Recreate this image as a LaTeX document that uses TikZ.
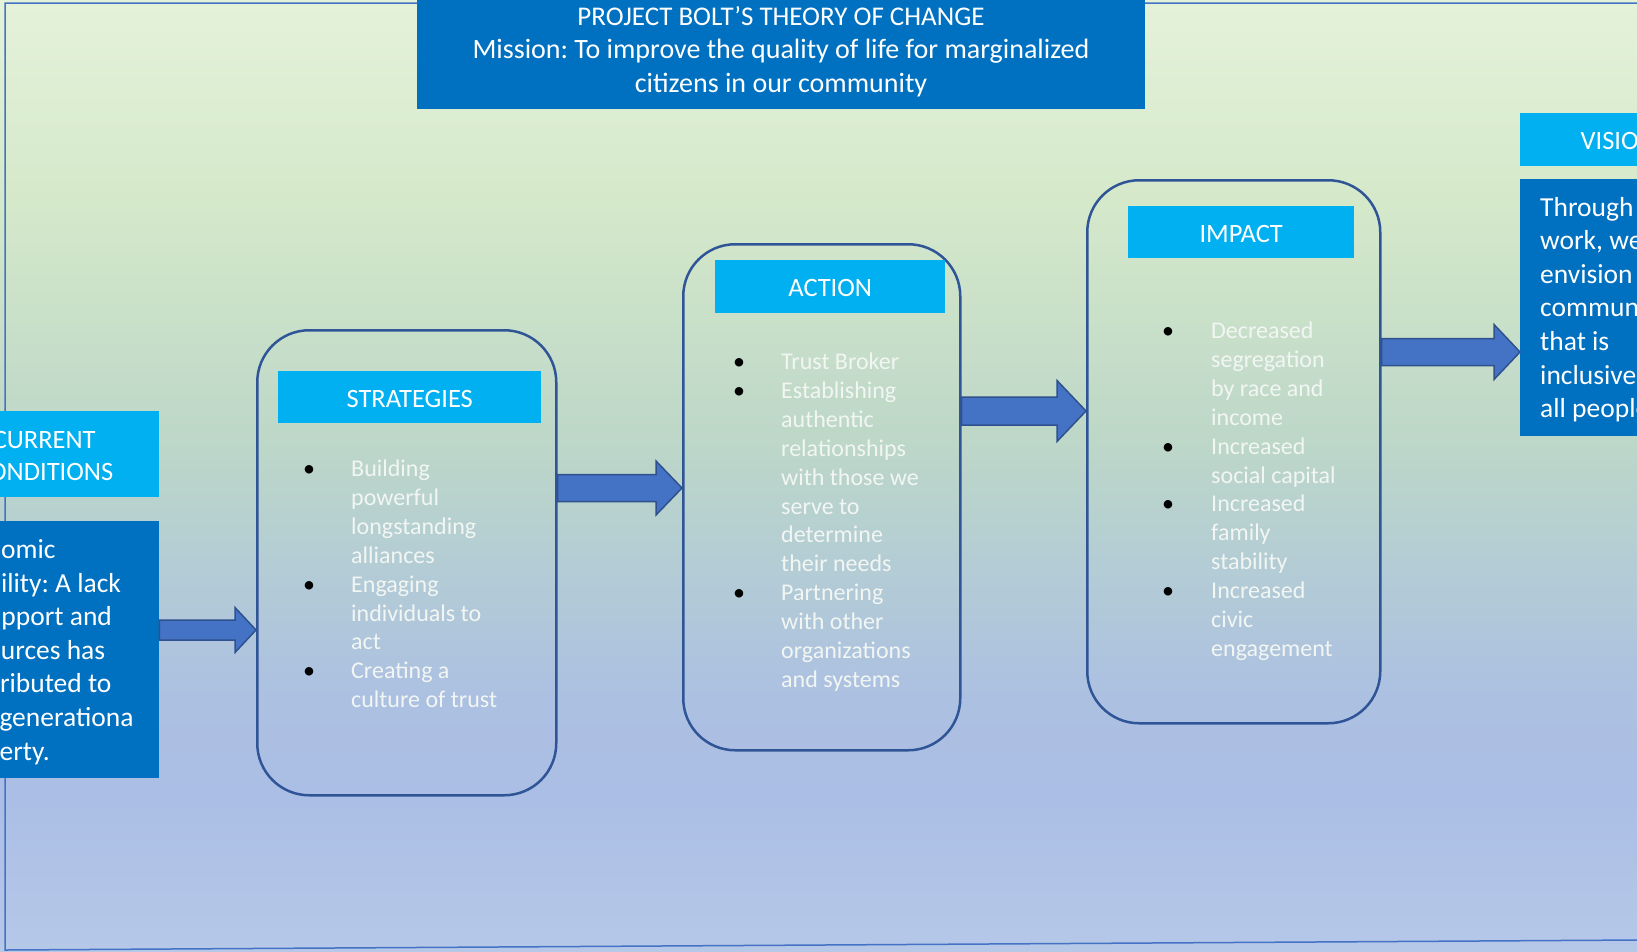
\documentclass[tikz,border=0pt]{standalone}
\usepackage{fontspec}
\setmainfont{Carlito}
\usepackage{array}
\usetikzlibrary{calc}
\frenchspacing
\definecolor{bgtop}{RGB}{228,242,218}
\definecolor{bgA}{RGB}{213,233,202}
\definecolor{bgB}{RGB}{189,215,200}
\definecolor{bgC}{RGB}{180,205,212}
\definecolor{bgD}{RGB}{172,192,226}
\definecolor{bgE}{RGB}{171,190,229}
\definecolor{bgbot}{RGB}{182,200,232}
\definecolor{framecol}{RGB}{68,114,196}
\definecolor{darkblue}{RGB}{0,112,192}
\definecolor{cyanhead}{RGB}{0,176,240}
\definecolor{boxline}{RGB}{47,85,151}
\definecolor{arrowfill}{RGB}{68,114,196}
\definecolor{arrowline}{RGB}{47,82,143}
\definecolor{itemtext}{RGB}{242,246,243}
\pgfdeclareverticalshading{bgshade}{100bp}{color(0bp)=(bgbot); color(25bp)=(bgbot); color(32.9bp)=(bgE); color(38.2bp)=(bgD); color(45.6bp)=(bgC); color(51.9bp)=(bgB); color(64.6bp)=(bgA); color(75bp)=(bgtop); color(100bp)=(bgtop)}
\newcommand\fList{\fontsize{24}{28.9}\selectfont}
\newcommand\fHead{\fontsize{26.5}{32.3}\selectfont}
\newcommand\fBody{\fontsize{27.5}{33.6}\selectfont}
\newcommand\fTitle{\fontsize{28}{33.5}\selectfont}
\newcommand\fTitleA{\fontsize{27}{33.5}\selectfont}
\newcommand\shiftln[1]{\hspace*{#1pt}}
\newcommand\blockarrow[5]{%
  \draw[blockarr] let \p1=(#1), \p2=(#2) in
    (\x1,{\y1+#3pt}) -- ({\x2-#5pt},{\y1+#3pt}) -- ({\x2-#5pt},{\y1+#4pt}) --
    (\x2,\y1) -- ({\x2-#5pt},{\y1-#4pt}) -- ({\x2-#5pt},{\y1-#3pt}) --
    (\x1,{\y1-#3pt}) -- cycle;}
\begin{document}
\begin{tikzpicture}[x=1pt,y=-1pt,
  stage/.style={draw=boxline, line width=2.5pt, rounded corners=52pt, inner sep=0pt, anchor=north west},
  headbox/.style={fill=cyanhead, inner sep=0pt, anchor=north west},
  headtext/.style={text=white, font=\fHead, inner sep=0pt, align=center},
  bodybox/.style={fill=darkblue, inner sep=0pt, anchor=north west},
  bodytext/.style={text=white, font=\fBody, inner sep=0pt, anchor=base west},
  bullets/.style={font=\fList, inner sep=0pt, anchor=base west},
  blockarr/.style={fill=arrowfill, draw=arrowline, line width=1.5pt, line join=miter}]
\useasboundingbox (0,0) rectangle (1637,951);
\clip (0,0) rectangle (1637,951);
% background
\shade[shading=bgshade] (0,0) rectangle (1637,951);
\draw[framecol, line width=1.5pt] (1640,3) -- (5,3) -- (5,950) -- (1640,940);

% title
\node[bodybox, minimum width=728pt, minimum height=109pt] (title) at (417,0) {};
\node[text=white, font=\fTitle, inner sep=0pt, anchor=base] (titletext) at (781,25)
  {\begin{tabular}[t]{@{}c@{}}{\fTitleA PROJECT BOLT’S THEORY OF CHANGE}\\
   Mission: To improve the quality of life for marginalized\\
   citizens in our community\end{tabular}};

% current conditions
\node[headbox, minimum width=230pt, minimum height=86pt] (curh) at (-71,411) {};
\node[headtext] (curhtext) at ([yshift=-2pt]curh.center) {CURRENT\\CONDITIONS};
\node[bodybox, minimum width=230pt, minimum height=257pt] (curbody) at (-71,521) {};
\node[bodytext] (curtext) at (-48,558.5)
  {\begin{tabular}[t]{@{}l@{}}\shiftln{-4.5}Economic\\ \shiftln{-2}mobility: A lack\\
   \shiftln{-5}of support and\\ \shiftln{0.5}resources has\\
   \shiftln{-1.5}contributed to\\ \shiftln{-5}intergenerationa\\ \shiftln{-6}l poverty.\end{tabular}};

% strategies
\node[stage, minimum width=299pt, minimum height=465pt] (strat) at (256,329) {};
\node[headbox, minimum width=263pt, minimum height=52pt] (strath) at (278,371) {};
\node[headtext] (strathtext) at ([yshift=-2pt]strath.center) {STRATEGIES};
\node[bullets] (stratlist) at (303,476.5)
  {\begin{tabular}[t]{@{}p{48pt}@{}>{\color{itemtext}}l@{}}
   \textbullet & Building\\ & powerful\\ & longstanding\\ & alliances\\
   \textbullet & Engaging\\ & individuals to\\ & act\\
   \textbullet & Creating a\\ & culture of trust\end{tabular}};

% action
\node[stage, minimum width=277pt, minimum height=506pt] (action) at (682,243) {};
\node[headbox, minimum width=230pt, minimum height=53pt] (actionh) at (715,260) {};
\node[headtext] (actionhtext) at ([yshift=-1.5pt]actionh.center) {ACTION};
\node[bullets] (actionlist) at (733,369.5)
  {\begin{tabular}[t]{@{}p{48pt}@{}>{\color{itemtext}}l@{}}
   \textbullet & Trust Broker\\
   \textbullet & Establishing\\ & authentic\\ & relationships\\ & with those we\\ & serve to\\ & determine\\ & their needs\\
   \textbullet & Partnering\\ & with other\\ & organizations\\ & and systems\end{tabular}};

% impact
\node[stage, minimum width=293pt, minimum height=543pt] (impact) at (1086,179) {};
\node[headbox, minimum width=226pt, minimum height=52pt] (impacth) at (1128,206) {};
\node[headtext] (impacthtext) at ([yshift=-1.5pt]impacth.center) {IMPACT};
\node[bullets] (impactlist) at (1162,338.5)
  {\begin{tabular}[t]{@{}p{49pt}@{}>{\color{itemtext}}l@{}}
   \textbullet & Decreased\\ & segregation\\ & by race and\\ & income\\
   \textbullet & Increased\\ & social capital\\
   \textbullet & Increased\\ & family\\ & stability\\
   \textbullet & Increased\\ & civic\\ & engagement\end{tabular}};

% vision
\node[headbox, minimum width=196pt, minimum height=53pt] (vish) at (1520,113) {};
\node[headtext] (vishtext) at ([yshift=-1pt]vish.center) {VISION};
\node[bodybox, minimum width=200pt, minimum height=257pt] (visbody) at (1520,179) {};
\node[bodytext] (vistext) at (1540,216)
  {\begin{tabular}[t]{@{}l@{}}Through our\\ work, we\\ envision a\\ community\\ that is\\
   inclusive of\\ all people.\end{tabular}};

% connectors
\blockarrow{curbody.east |- 0,630}{strat.west |- 0,630}{10}{22.5}{21}
\blockarrow{strat.east |- 0,488}{action.west |- 0,488}{13.5}{27}{26}
\blockarrow{action.east |- 0,411}{impact.west |- 0,411}{14}{30.5}{29}
\blockarrow{impact.east |- 0,352}{visbody.west |- 0,352}{13.5}{27.5}{26}
\end{tikzpicture}
\end{document}
